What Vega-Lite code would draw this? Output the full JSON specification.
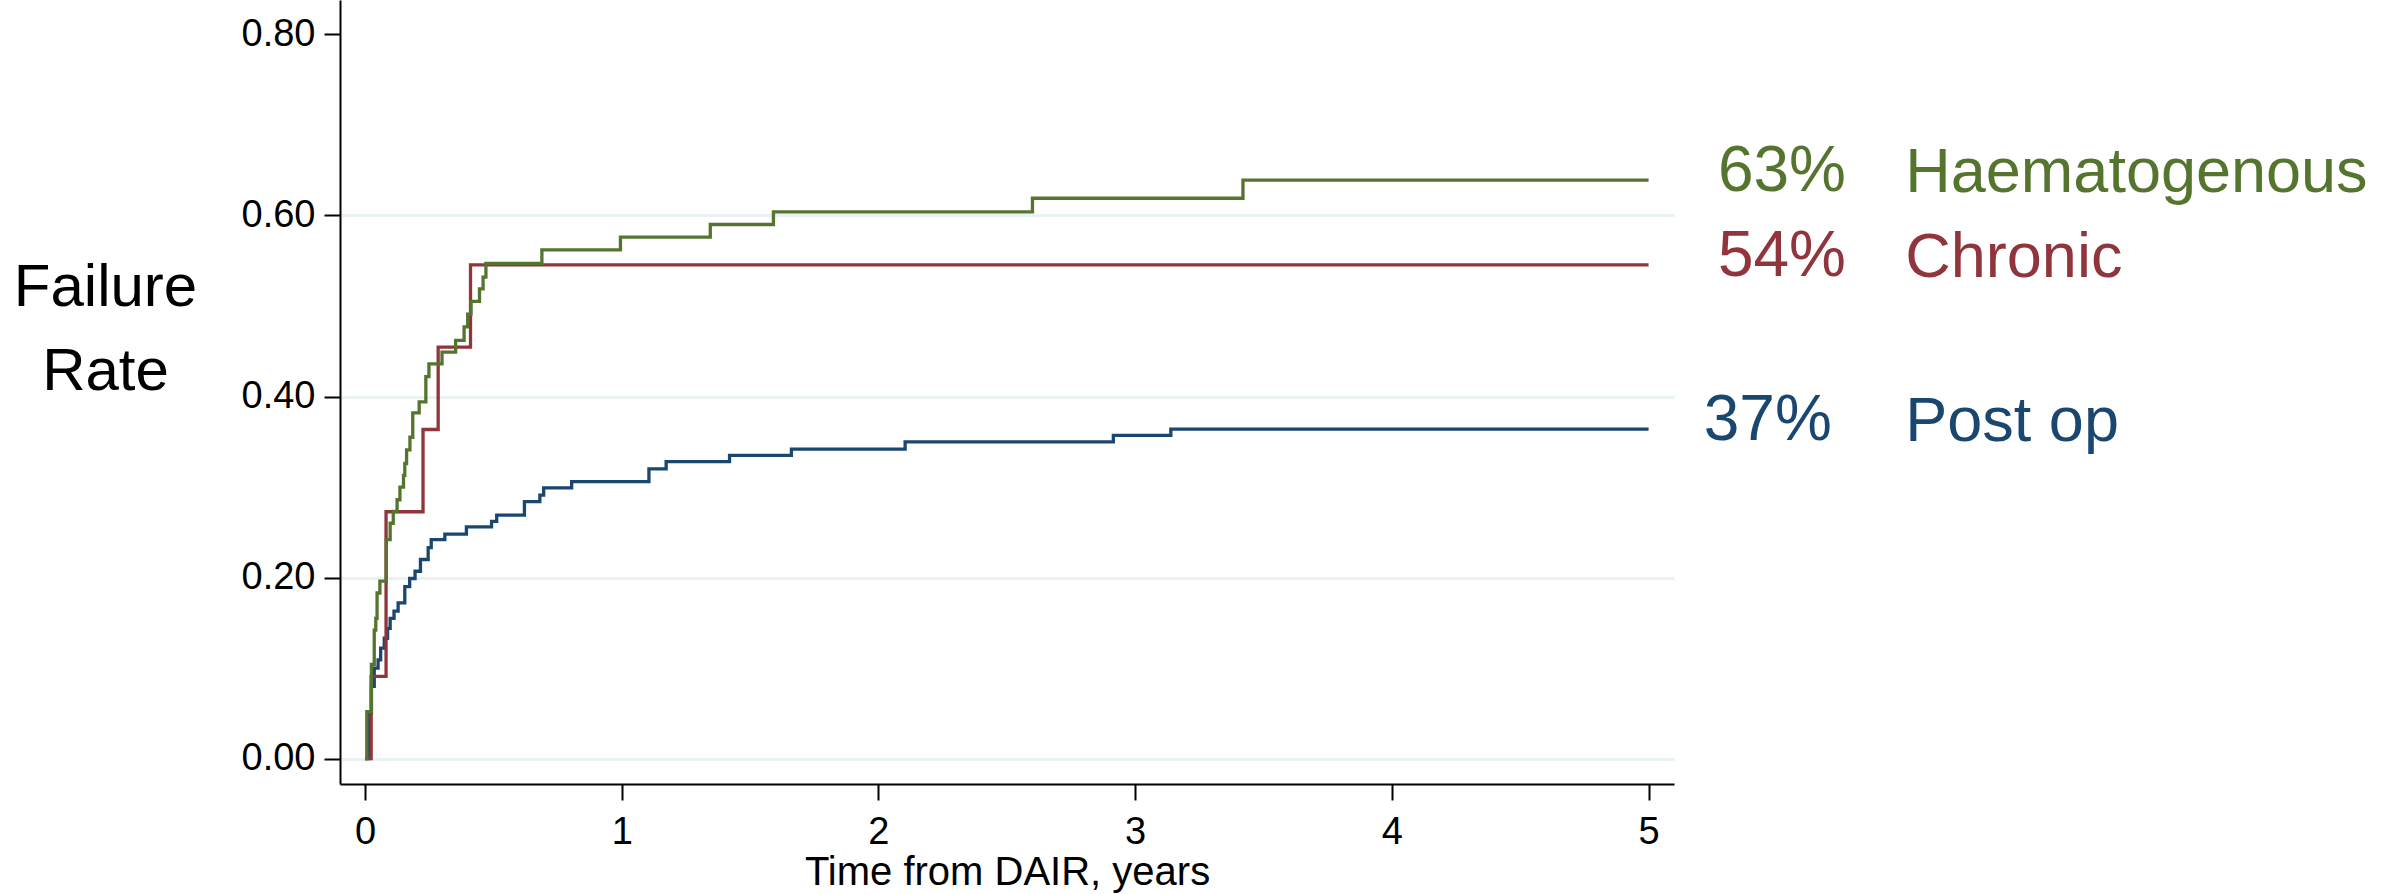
{
  "$schema": "https://vega.github.io/schema/vega-lite/v6.json",
  "width": 1334,
  "height": 784,
  "autosize": {"type": "none"},
  "padding": {"left": 340, "top": 0, "right": 707, "bottom": 110},
  "background": "white",
  "config": {"view": {"stroke": null}, "font": "Liberation Sans"},
  "datasets": {
    "curves": [
      {"group": "Post op", "t": 0, "F": 0},
      {"group": "Post op", "t": 0.013, "F": 0.05},
      {"group": "Post op", "t": 0.025, "F": 0.08},
      {"group": "Post op", "t": 0.036, "F": 0.1},
      {"group": "Post op", "t": 0.051, "F": 0.109},
      {"group": "Post op", "t": 0.061, "F": 0.122},
      {"group": "Post op", "t": 0.075, "F": 0.133},
      {"group": "Post op", "t": 0.088, "F": 0.144},
      {"group": "Post op", "t": 0.098, "F": 0.155},
      {"group": "Post op", "t": 0.113, "F": 0.163},
      {"group": "Post op", "t": 0.129, "F": 0.172},
      {"group": "Post op", "t": 0.155, "F": 0.19},
      {"group": "Post op", "t": 0.174, "F": 0.199},
      {"group": "Post op", "t": 0.195, "F": 0.207},
      {"group": "Post op", "t": 0.216, "F": 0.22},
      {"group": "Post op", "t": 0.246, "F": 0.233},
      {"group": "Post op", "t": 0.258, "F": 0.242},
      {"group": "Post op", "t": 0.311, "F": 0.248},
      {"group": "Post op", "t": 0.395, "F": 0.256},
      {"group": "Post op", "t": 0.493, "F": 0.262},
      {"group": "Post op", "t": 0.513, "F": 0.269},
      {"group": "Post op", "t": 0.621, "F": 0.284},
      {"group": "Post op", "t": 0.681, "F": 0.291},
      {"group": "Post op", "t": 0.696, "F": 0.299},
      {"group": "Post op", "t": 0.805, "F": 0.306},
      {"group": "Post op", "t": 1.106, "F": 0.32},
      {"group": "Post op", "t": 1.173, "F": 0.328},
      {"group": "Post op", "t": 1.42, "F": 0.335},
      {"group": "Post op", "t": 1.661, "F": 0.342},
      {"group": "Post op", "t": 2.104, "F": 0.35},
      {"group": "Post op", "t": 2.915, "F": 0.357},
      {"group": "Post op", "t": 3.139, "F": 0.364},
      {"group": "Post op", "t": 5.0, "F": 0.364},
      {"group": "Chronic", "t": 0, "F": 0},
      {"group": "Chronic", "t": 0.024, "F": 0.0909},
      {"group": "Chronic", "t": 0.082, "F": 0.2727},
      {"group": "Chronic", "t": 0.226, "F": 0.3636},
      {"group": "Chronic", "t": 0.285, "F": 0.4545},
      {"group": "Chronic", "t": 0.411, "F": 0.5454},
      {"group": "Chronic", "t": 5.0, "F": 0.5454},
      {"group": "Haematogenous", "t": 0, "F": 0},
      {"group": "Haematogenous", "t": 0.007, "F": 0.052},
      {"group": "Haematogenous", "t": 0.025, "F": 0.104},
      {"group": "Haematogenous", "t": 0.036, "F": 0.142},
      {"group": "Haematogenous", "t": 0.042, "F": 0.155},
      {"group": "Haematogenous", "t": 0.047, "F": 0.183},
      {"group": "Haematogenous", "t": 0.058, "F": 0.196},
      {"group": "Haematogenous", "t": 0.083, "F": 0.242},
      {"group": "Haematogenous", "t": 0.098, "F": 0.26},
      {"group": "Haematogenous", "t": 0.11, "F": 0.273},
      {"group": "Haematogenous", "t": 0.125, "F": 0.286},
      {"group": "Haematogenous", "t": 0.136, "F": 0.3},
      {"group": "Haematogenous", "t": 0.15, "F": 0.313},
      {"group": "Haematogenous", "t": 0.155, "F": 0.326},
      {"group": "Haematogenous", "t": 0.162, "F": 0.341},
      {"group": "Haematogenous", "t": 0.175, "F": 0.355},
      {"group": "Haematogenous", "t": 0.186, "F": 0.382},
      {"group": "Haematogenous", "t": 0.211, "F": 0.394},
      {"group": "Haematogenous", "t": 0.237, "F": 0.422},
      {"group": "Haematogenous", "t": 0.249, "F": 0.436},
      {"group": "Haematogenous", "t": 0.3, "F": 0.449},
      {"group": "Haematogenous", "t": 0.353, "F": 0.462},
      {"group": "Haematogenous", "t": 0.386, "F": 0.477},
      {"group": "Haematogenous", "t": 0.4, "F": 0.491},
      {"group": "Haematogenous", "t": 0.413, "F": 0.505},
      {"group": "Haematogenous", "t": 0.446, "F": 0.519},
      {"group": "Haematogenous", "t": 0.46, "F": 0.532},
      {"group": "Haematogenous", "t": 0.471, "F": 0.547},
      {"group": "Haematogenous", "t": 0.689, "F": 0.562},
      {"group": "Haematogenous", "t": 0.995, "F": 0.576},
      {"group": "Haematogenous", "t": 1.345, "F": 0.59},
      {"group": "Haematogenous", "t": 1.591, "F": 0.604},
      {"group": "Haematogenous", "t": 2.6, "F": 0.619},
      {"group": "Haematogenous", "t": 3.42, "F": 0.639},
      {"group": "Haematogenous", "t": 5.0, "F": 0.639}
    ],
    "labels": [
      {"group": "Haematogenous", "pct": "63%", "name": "Haematogenous", "final": 0.639},
      {"group": "Chronic", "pct": "54%", "name": "Chronic", "final": 0.5454},
      {"group": "Post op", "pct": "37%", "name": "Post op", "final": 0.364}
    ]
  },
  "layer": [
    {
      "mark": {"type": "rule", "stroke": "#f2f3f3", "strokeWidth": 2},
      "encoding": {
        "x": {"datum": -0.553, "type": "quantitative", "scale": {"domain": [-0.0974, 5.099], "nice": false, "zero": false}},
        "y": {"datum": 0.838, "type": "quantitative", "scale": {"domain": [-0.028, 0.838], "nice": false, "zero": false}},
        "y2": {"datum": -0.149}
      }
    },
    {
      "mark": {"type": "rule", "stroke": "#f2f3f3", "strokeWidth": 2},
      "encoding": {
        "x": {"datum": 5.255, "type": "quantitative"},
        "y": {"datum": 0.708, "type": "quantitative"},
        "y2": {"datum": -0.149}
      }
    },
    {
      "mark": {"type": "rule", "stroke": "#e9f1f3", "strokeWidth": 3},
      "encoding": {
        "y": {"datum": 0.8, "type": "quantitative"},
        "x": {"datum": -0.0974, "type": "quantitative"},
        "x2": {"datum": 1.58}
      }
    },
    {
      "data": {"name": "curves"},
      "mark": {"type": "line", "interpolate": "step-after", "strokeWidth": 3.3, "strokeCap": "butt"},
      "encoding": {
        "x": {
          "field": "t", "type": "quantitative",
          "scale": {"domain": [-0.0974, 5.099], "nice": false, "zero": false},
          "axis": {
            "values": [0, 1, 2, 3, 4, 5], "format": "d", "grid": false,
            "domainColor": "black", "domainWidth": 2, "tickColor": "black", "tickWidth": 2, "tickSize": 16,
            "labelFontSize": 38, "labelColor": "black", "labelPadding": 43, "labelBaseline": "alphabetic",
            "title": "Time from DAIR, years", "titleFontSize": 40, "titleFontWeight": "normal", "titleColor": "black",
            "titleBaseline": "alphabetic", "titleY": 100
          }
        },
        "y": {
          "field": "F", "type": "quantitative",
          "scale": {"domain": [-0.028, 0.838], "nice": false, "zero": false},
          "axis": {
            "values": [0, 0.2, 0.4, 0.6, 0.8], "format": ".2f",
            "grid": true, "gridWidth": 3,
            "gridColor": {"condition": {"test": "datum.value > 0.7", "value": "transparent"}, "value": "#e9f1f3"},
            "domainColor": "black", "domainWidth": 2, "tickColor": "black", "tickWidth": 2, "tickSize": 16,
            "labelFontSize": 38, "labelColor": "black", "labelPadding": 9,
            "title": ["Failure", "Rate"], "titleFontSize": 60, "titleFontWeight": "normal", "titleColor": "black",
            "titleAngle": 0, "titleAlign": "center", "titleBaseline": "alphabetic",
            "titleX": -235, "titleY": 305, "titleLineHeight": 84
          }
        },
        "color": {
          "field": "group", "type": "nominal",
          "scale": {"domain": ["Post op", "Chronic", "Haematogenous"], "range": ["#1a476f", "#90353b", "#55752f"]},
          "legend": null
        }
      }
    },
    {
      "data": {"name": "labels"},
      "transform": [{"filter": "datum.group != 'Post op'"}],
      "mark": {"type": "text", "align": "left", "baseline": "alphabetic", "fontSize": 64, "dy": 11},
      "encoding": {
        "x": {"datum": 5.27, "type": "quantitative"},
        "y": {"field": "final", "type": "quantitative"},
        "text": {"field": "pct"},
        "color": {"field": "group", "type": "nominal", "legend": null}
      }
    },
    {
      "data": {"name": "labels"},
      "transform": [{"filter": "datum.group == 'Post op'"}],
      "mark": {"type": "text", "align": "left", "baseline": "alphabetic", "fontSize": 64, "dy": 11},
      "encoding": {
        "x": {"datum": 5.215, "type": "quantitative"},
        "y": {"field": "final", "type": "quantitative"},
        "text": {"field": "pct"},
        "color": {"field": "group", "type": "nominal", "legend": null}
      }
    },
    {
      "data": {"name": "labels"},
      "mark": {"type": "text", "align": "left", "baseline": "alphabetic", "fontSize": 63, "dy": 12},
      "encoding": {
        "x": {"datum": 6.0, "type": "quantitative"},
        "y": {"field": "final", "type": "quantitative"},
        "text": {"field": "name"},
        "color": {"field": "group", "type": "nominal", "legend": null}
      }
    }
  ]
}
